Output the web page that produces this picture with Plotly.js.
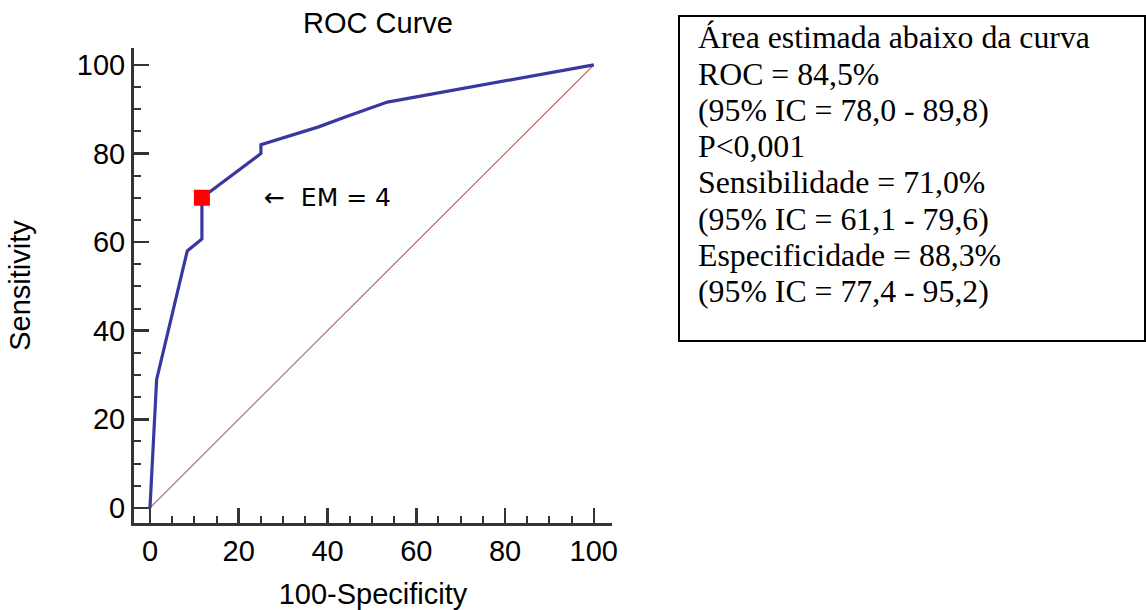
<!DOCTYPE html>
<html>
<head>
<meta charset="utf-8">
<script src="https://cdn.plot.ly/plotly-3.0.1.min.js"></script>
<style>html,body{margin:0;padding:0;background:#fff;}#chart{width:1146px;height:610px;}</style>
</head>
<body>
<div id="chart"></div>
<script>
// ROC curve (100-Specificity, Sensitivity)
const rocX = [0, 1.3, 1.5, 8.4, 11.7, 11.7, 25.0, 25.0, 38.0, 44.0, 53.5, 100];
const rocY = [0, 27.0, 29.0, 58.0, 60.7, 70.0, 80.0, 82.0, 86.0, 88.2, 91.6, 100];
// reference diagonal
const diagX = [0, 100];
const diagY = [0, 100];
// optimal cut-off point (EM = 4)
const cutX = [11.7];
const cutY = [70.0];
const cutLabel = "\u2190\u00a0\u00a0EM = 4";
const tickVals = [0, 20, 40, 60, 80, 100];
const tickText = ["0", "20", "40", "60", "80", "100"];
const statLines = [
  "Área estimada abaixo da curva",
  "ROC = 84,5%",
  "(95% IC = 78,0 - 89,8)",
  "P<0,001",
  "Sensibilidade = 71,0%",
  "(95% IC = 61,1 - 79,6)",
  "Especificidade = 88,3%",
  "(95% IC = 77,4 - 95,2)"
];

// layout helpers (pixel -> paper)
const W = 1146, H = 610;
const M = {l: 134, r: 534, t: 48, b: 87};
const pw = W - M.l - M.r, ph = H - M.t - M.b;
const px = x => (x - M.l) / pw;
const py = y => (H - M.b - y) / ph;

const sans = "Liberation Sans, Arial, sans-serif";
const serif = "Liberation Serif, Times New Roman, serif";
const fs = 29;

const traces = [
  {x: diagX, y: diagY, mode: 'lines', line: {color: '#b45a5a', width: 1.1}, hoverinfo: 'skip', showlegend: false},
  {x: rocX, y: rocY, mode: 'lines', line: {color: '#3838a0', width: 3.2}, showlegend: false},
  {x: cutX, y: cutY, mode: 'markers', marker: {symbol: 'square', size: 16, color: '#ff0000'}, showlegend: false}
];

const annotations = [
  {x: 25.3, y: cutY[0], xref: 'x', yref: 'y', text: cutLabel, showarrow: false, xanchor: 'left', yanchor: 'middle',
   font: {family: "DejaVu Sans, Liberation Sans, sans-serif", size: 25, color: '#000'}}
];
const lineY0 = 38, lineStep = 36.2;
statLines.forEach((t, i) => {
  annotations.push({x: px(696), y: py(lineY0 + i * lineStep), xref: 'paper', yref: 'paper', text: t,
    showarrow: false, xanchor: 'left', yanchor: 'middle', font: {family: serif, size: 31.8, color: '#000'}});
});

const axisCommon = {
  showgrid: false, zeroline: false, showline: true, linecolor: '#333', linewidth: 3,
  ticks: 'inside', ticklen: 15, tickwidth: 2.5, tickcolor: '#333',
  tickmode: 'array', tickvals: tickVals, ticktext: tickText,
  tickfont: {family: sans, size: fs, color: '#000'},
  minor: {dtick: 5, ticks: 'inside', ticklen: 7, tickwidth: 2, tickcolor: '#333', showgrid: false},
  fixedrange: true
};

const layout = {
  width: W, height: H,
  margin: M,
  paper_bgcolor: '#fff', plot_bgcolor: '#fff',
  title: {text: 'ROC Curve', font: {family: sans, size: fs, color: '#000'}, x: px(378), xref: 'paper', xanchor: 'center', y: 1 - 23 / H, yanchor: 'middle'},
  xaxis: Object.assign({}, axisCommon, {range: [-3.6, 104.1],
    title: {text: '100-Specificity', font: {family: sans, size: fs, color: '#000'}, standoff: 18}}),
  yaxis: Object.assign({}, axisCommon, {range: [-3.4, 103.8],
    title: {text: 'Sensitivity', font: {family: sans, size: fs, color: '#000'}, standoff: 38}}),
  annotations: annotations,
  shapes: [
    {type: 'rect', xref: 'paper', yref: 'paper', x0: px(679), x1: px(1145), y0: py(341), y1: py(16),
     line: {color: '#000', width: 2}, fillcolor: 'rgba(0,0,0,0)'}
  ],
  showlegend: false
};

Plotly.newPlot('chart', traces, layout, {displayModeBar: false, staticPlot: true});
</script>
</body>
</html>
